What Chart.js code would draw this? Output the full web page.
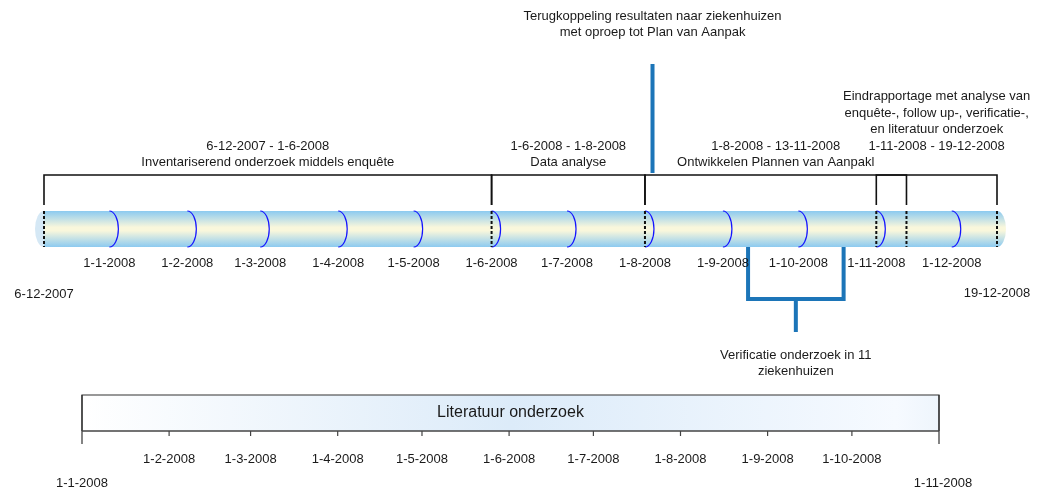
<!DOCTYPE html>
<html>
<head>
<meta charset="utf-8">
<script src="https://cdn.jsdelivr.net/npm/chart.js@4/dist/chart.umd.min.js"></script>
<style>
  html, body { margin: 0; padding: 0; background: #fff; }
  #wrap { width: 1051px; height: 489px; position: relative; }
</style>
</head>
<body>
<div id="wrap"><canvas id="timeline"></canvas></div>
<script>
// top timeline
var timelineStart = '6-12-2007';
var timelineEnd = '19-12-2008';
var topMonths = ['1-1-2008', '1-2-2008', '1-3-2008', '1-4-2008', '1-5-2008', '1-6-2008',
                 '1-7-2008', '1-8-2008', '1-9-2008', '1-10-2008', '1-11-2008', '1-12-2008'];

// phases
var phaseStarts = ['6-12-2007', '1-6-2008', '1-8-2008', '1-11-2008'];
var phaseEnds = ['1-6-2008', '1-8-2008', '13-11-2008', '19-12-2008'];
var phaseNames = [
    ['Inventariserend onderzoek middels enquête'],
    ['Data analyse'],
    ['Ontwikkelen Plannen van Aanpakl'],
    ['Eindrapportage met analyse van', 'enquête-, follow up-, verificatie-,', 'en literatuur onderzoek']
];
var phaseNameAbove = [false, false, false, true];

// milestones
var feedbackDate = '4-8-2008';
var feedbackText = ['Terugkoppeling resultaten naar ziekenhuizen', 'met oproep tot Plan van Aanpak'];
var verifStart = '11-9-2008';
var verifEnd = '19-10-2008';
var verifText = ['Verificatie onderzoek in 11', 'ziekenhuizen'];

// literature timeline
var litStart = '1-1-2008';
var litEnd = '1-11-2008';
var litMonths = ['1-2-2008', '1-3-2008', '1-4-2008', '1-5-2008', '1-6-2008',
                 '1-7-2008', '1-8-2008', '1-9-2008', '1-10-2008'];
var litTitle = 'Literatuur onderzoek';

function dayOf(s) {
    var p = s.split('-');
    return (Date.UTC(+p[2], +p[1] - 1, +p[0]) - Date.UTC(2007, 11, 6)) / 86400000;
}

var FONT = '13px "Liberation Sans", Arial, sans-serif';
var BLUE = '#1c75b8';

// layout (pixels)
var padL = 44, padR = 54;
var barTop = 211, barBot = 247;
var bracketY = 175, bracketDrop = 205;
var litTop = 395, litAxis = 431;
var litLeftPx = 82, litRightPx = 939;

// second axis range so that literature timeline sits where it should
var areaW = 1051 - padL - padR;
var k2 = (litRightPx - litLeftPx) / (dayOf(litEnd) - dayOf(litStart));
var litMin = dayOf(litStart) - (litLeftPx - padL) / k2;
var litMax = litMin + areaW / k2;

function lineSet(points, axis, color, width, dash) {
    return {
        type: 'line',
        data: points,
        xAxisID: axis,
        yAxisID: 'y',
        borderColor: color,
        borderWidth: width,
        borderDash: dash || [],
        borderCapStyle: 'butt',
        borderJoinStyle: 'miter',
        pointRadius: 0,
        fill: false,
        tension: 0,
        clip: false
    };
}

var datasets = [];
// phase brackets
phaseStarts.forEach(function(s, i) {
    var a = dayOf(s), b = dayOf(phaseEnds[i]);
    datasets.push(lineSet([{x: a, y: bracketDrop}, {x: a, y: bracketY}, {x: b, y: bracketY}, {x: b, y: bracketDrop}],
        'x', '#111', 1.6));
});
// dashed boundaries inside the bar
var bounds = [];
phaseStarts.concat(phaseEnds).forEach(function(s) { if (bounds.indexOf(s) < 0) bounds.push(s); });
bounds.forEach(function(s) {
    datasets.push(lineSet([{x: dayOf(s), y: barTop}, {x: dayOf(s), y: barBot}], 'x', '#111', 2, [3, 2]));
});
// feedback milestone
datasets.push(lineSet([{x: dayOf(feedbackDate), y: 64}, {x: dayOf(feedbackDate), y: 173}], 'x', BLUE, 4));
// verification bracket
var vMid = (dayOf(verifStart) + dayOf(verifEnd)) / 2;
datasets.push(lineSet([{x: dayOf(verifStart), y: barBot}, {x: dayOf(verifStart), y: 299},
    {x: dayOf(verifEnd), y: 299}, {x: dayOf(verifEnd), y: barBot}], 'x', BLUE, 4));
datasets.push(lineSet([{x: vMid, y: 299}, {x: vMid, y: 332}], 'x', BLUE, 4));
// literature axis line and ticks
datasets.push(lineSet([{x: dayOf(litStart), y: litAxis}, {x: dayOf(litEnd), y: litAxis}], 'xLit', '#444', 1.5));
[litStart, litEnd].forEach(function(s) {
    datasets.push(lineSet([{x: dayOf(s), y: litTop}, {x: dayOf(s), y: 444}], 'xLit', '#333', 1.2));
});
litMonths.forEach(function(s) {
    datasets.push(lineSet([{x: dayOf(s), y: litAxis}, {x: dayOf(s), y: 436}], 'xLit', '#444', 1.2));
});

var backdrop = {
    id: 'backdrop',
    beforeDatasetsDraw: function(chart) {
        var ctx = chart.ctx, xs = chart.scales.x, xl = chart.scales.xLit;
        var x0 = xs.getPixelForValue(dayOf(timelineStart));
        var x1 = xs.getPixelForValue(dayOf(timelineEnd));
        var mid = (barTop + barBot) / 2, ry = (barBot - barTop) / 2;
        ctx.save();
        // cylinder end face
        ctx.fillStyle = '#d5e8f5';
        ctx.beginPath();
        ctx.ellipse(x0, mid, 9, ry, 0, 0, Math.PI * 2);
        ctx.fill();
        // cylinder body
        var g = ctx.createLinearGradient(0, barTop, 0, barBot);
        g.addColorStop(0, '#8ccaf0');
        g.addColorStop(0.45, '#f9f7dc');
        g.addColorStop(0.55, '#f9f7dc');
        g.addColorStop(1, '#8ccaf0');
        ctx.fillStyle = g;
        ctx.beginPath();
        ctx.moveTo(x0, barTop);
        ctx.lineTo(x1, barTop);
        ctx.ellipse(x1, mid, 9, ry, 0, -Math.PI / 2, Math.PI / 2);
        ctx.lineTo(x0, barBot);
        ctx.closePath();
        ctx.fill();
        // month arcs
        ctx.strokeStyle = '#1414ff';
        ctx.lineWidth = 1.2;
        topMonths.forEach(function(s) {
            var x = xs.getPixelForValue(dayOf(s));
            ctx.beginPath();
            ctx.ellipse(x, mid, 9, ry, 0, -Math.PI / 2, Math.PI / 2);
            ctx.stroke();
        });
        // literature box
        var l0 = xl.getPixelForValue(dayOf(litStart));
        var l1 = xl.getPixelForValue(dayOf(litEnd));
        var lg = ctx.createLinearGradient(l0, 0, l1, 0);
        lg.addColorStop(0, '#ffffff');
        lg.addColorStop(0.5, '#dcebf9');
        lg.addColorStop(0.95, '#f6faff');
        lg.addColorStop(1, '#eef5fc');
        ctx.fillStyle = lg;
        ctx.fillRect(l0, litTop, l1 - l0, litAxis - litTop);
        ctx.strokeStyle = '#333';
        ctx.lineWidth = 1.2;
        ctx.beginPath();
        ctx.moveTo(l0, litAxis);
        ctx.lineTo(l0, litTop);
        ctx.lineTo(l1, litTop);
        ctx.lineTo(l1, litAxis);
        ctx.stroke();
        ctx.restore();
    },
    afterDatasetsDraw: function(chart) {
        var ctx = chart.ctx, xs = chart.scales.x, xl = chart.scales.xLit;
        ctx.save();
        ctx.fillStyle = '#1a1a1a';
        ctx.font = FONT;
        ctx.textAlign = 'center';
        ctx.textBaseline = 'middle';
        function txt(s, x, y) { ctx.fillText(s, x, y); }
        // top month labels
        topMonths.forEach(function(s) { txt(s, xs.getPixelForValue(dayOf(s)), 263); });
        txt(timelineStart, xs.getPixelForValue(dayOf(timelineStart)), 294);
        txt(timelineEnd, xs.getPixelForValue(dayOf(timelineEnd)), 293);
        // phase labels
        phaseStarts.forEach(function(s, i) {
            var cx = (xs.getPixelForValue(dayOf(s)) + xs.getPixelForValue(dayOf(phaseEnds[i]))) / 2;
            txt(s + ' - ' + phaseEnds[i], cx, 146);
            var names = phaseNames[i];
            if (phaseNameAbove[i]) {
                names.forEach(function(n, j) { txt(n, cx, 146 - 16.5 * (names.length - j)); });
            } else {
                names.forEach(function(n, j) { txt(n, cx, 162.5 + 16.5 * j); });
            }
        });
        // feedback text
        var fx = xs.getPixelForValue(dayOf(feedbackDate));
        feedbackText.forEach(function(n, j) { txt(n, fx, 16 + 16.5 * j); });
        // verification text
        var vx = xs.getPixelForValue(vMid);
        verifText.forEach(function(n, j) { txt(n, vx, 355 + 16 * j); });
        // literature labels
        litMonths.forEach(function(s) { txt(s, xl.getPixelForValue(dayOf(s)), 459); });
        txt(litStart, xl.getPixelForValue(dayOf(litStart)), 483);
        txt(litEnd, xl.getPixelForValue(dayOf(litEnd)) + 4, 483);
        ctx.font = '16px "Liberation Sans", Arial, sans-serif';
        txt(litTitle, (xl.getPixelForValue(dayOf(litStart)) + xl.getPixelForValue(dayOf(litEnd))) / 2, 413);
        ctx.restore();
    }
};

var timelineChart = new Chart(document.getElementById('timeline').getContext('2d'), {
    type: 'line',
    data: { datasets: datasets },
    options: {
        responsive: true,
        maintainAspectRatio: false,
        animation: false,
        layout: { padding: { left: padL, right: padR, top: 0, bottom: 0 } },
        plugins: { legend: { display: false }, tooltip: { enabled: false } },
        scales: {
            x: { type: 'linear', display: false, min: dayOf(timelineStart), max: dayOf(timelineEnd) },
            xLit: { type: 'linear', axis: 'x', display: false, min: litMin, max: litMax },
            y: { type: 'linear', display: false, reverse: true, min: 0, max: 489 }
        }
    },
    plugins: [backdrop]
});
</script>
</body>
</html>
